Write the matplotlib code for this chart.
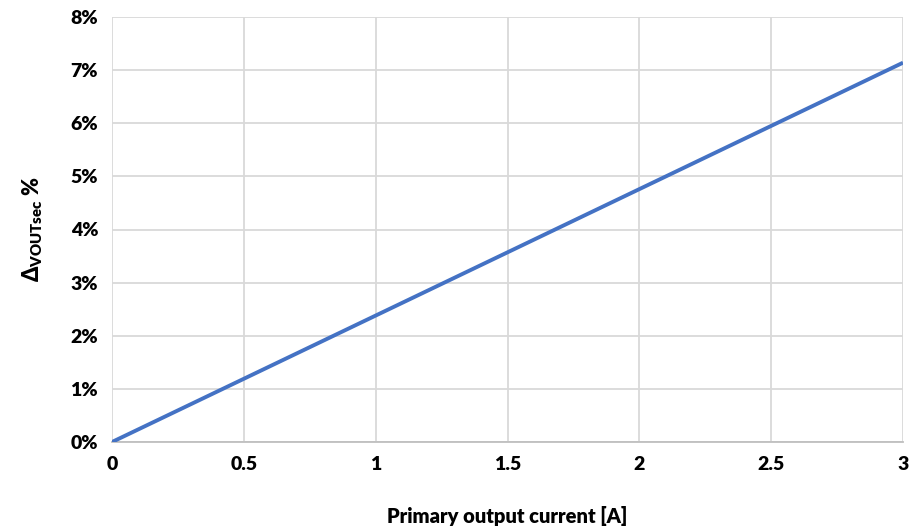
import matplotlib
matplotlib.use("Agg")
import matplotlib.pyplot as plt
from matplotlib.ticker import FuncFormatter

plt.rcParams['font.family'] = ['Lato', 'DejaVu Sans']
plt.rcParams['mathtext.fontset'] = 'custom'
plt.rcParams['mathtext.rm'] = 'Lato:bold'
plt.rcParams['mathtext.bf'] = 'Lato:bold'

current = [0, 0.5, 1, 1.5, 2, 2.5, 3]
delta_pct = [0, 1.19, 2.38, 3.57, 4.76, 5.95, 7.14]
x_ticks = [0, 0.5, 1, 1.5, 2, 2.5, 3]
x_tick_labels = ['0', '0.5', '1', '1.5', '2', '2.5', '3']
y_ticks = [0, 1, 2, 3, 4, 5, 6, 7, 8]

fig = plt.figure(figsize=(9.13, 5.29), dpi=100)
ax = fig.add_axes([112/913, 1-442/529, (903-112)/913, (442-17)/529])

ax.plot(current, delta_pct, color='#4472C4', linewidth=2.8, solid_capstyle='butt', zorder=3)

ax.set_xlim(0, 3)
ax.set_ylim(0, 8)
ax.set_xticks(x_ticks)
ax.set_xticklabels(x_tick_labels)
ax.set_yticks(y_ticks)
ax.yaxis.set_major_formatter(FuncFormatter(lambda v, p: f'{v:.0f}%'))

ax.grid(True, color='#D9D9D9', linewidth=1.3)
ax.set_axisbelow(True)
for s in ['top', 'right', 'left']:
    ax.spines[s].set_visible(False)
ax.spines['bottom'].set_color('#BFBFBF')
ax.spines['bottom'].set_linewidth(1.3)
ax.tick_params(length=0, labelsize=14, pad=10)
for lbl in ax.get_xticklabels() + ax.get_yticklabels():
    lbl.set_fontweight('heavy')

ax.set_xlabel('Primary output current [A]', fontsize=14.5, fontweight='heavy', labelpad=24)
ax.set_ylabel(r'Δ$_{\mathregular{VOUTsec}}$ %', fontsize=15.5, fontweight='heavy', labelpad=18)

fig.savefig('out.png', dpi=100, facecolor='white')
